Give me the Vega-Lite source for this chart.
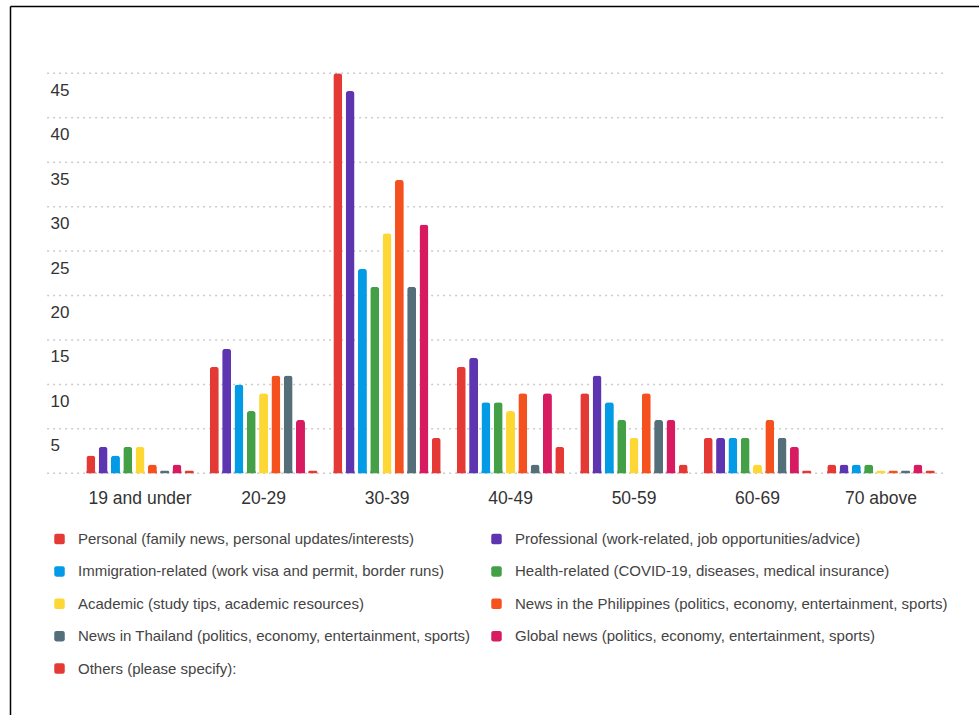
{
  "$schema": "https://vega.github.io/schema/vega-lite/v6.json",
  "width": 969,
  "height": 709,
  "autosize": "none",
  "padding": {"left": 10, "top": 6, "right": 0, "bottom": 0},
  "background": "white",
  "config": {"view": {"stroke": null}, "font": "Liberation Sans", "legend": {"gridAlign": "none"}},
  "datasets": {
    "grid": [
      {"v": 0, "a": "19 and under", "b": "70 above"},
      {"v": 5, "a": "19 and under", "b": "70 above"},
      {"v": 10, "a": "19 and under", "b": "70 above"},
      {"v": 15, "a": "19 and under", "b": "70 above"},
      {"v": 20, "a": "19 and under", "b": "70 above"},
      {"v": 25, "a": "19 and under", "b": "70 above"},
      {"v": 30, "a": "19 and under", "b": "70 above"},
      {"v": 35, "a": "19 and under", "b": "70 above"},
      {"v": 40, "a": "19 and under", "b": "70 above"},
      {"v": 45, "a": "19 and under", "b": "70 above"}
    ],
    "bars": [
      {"age": "19 and under", "cat": "Personal (family news, personal updates/interests)", "n": 2},
      {"age": "19 and under", "cat": "Professional (work-related, job opportunities/advice)", "n": 3},
      {"age": "19 and under", "cat": "Immigration-related (work visa and permit, border runs)", "n": 2},
      {"age": "19 and under", "cat": "Health-related (COVID-19, diseases, medical insurance)", "n": 3},
      {"age": "19 and under", "cat": "Academic (study tips, academic resources)", "n": 3},
      {"age": "19 and under", "cat": "News in the Philippines (politics, economy, entertainment, sports)", "n": 1},
      {"age": "19 and under", "cat": "News in Thailand (politics, economy, entertainment, sports)", "n": 0},
      {"age": "19 and under", "cat": "Global news (politics, economy, entertainment, sports)", "n": 1},
      {"age": "19 and under", "cat": "Others (please specify):", "n": 0},
      {"age": "20-29", "cat": "Personal (family news, personal updates/interests)", "n": 12},
      {"age": "20-29", "cat": "Professional (work-related, job opportunities/advice)", "n": 14},
      {"age": "20-29", "cat": "Immigration-related (work visa and permit, border runs)", "n": 10},
      {"age": "20-29", "cat": "Health-related (COVID-19, diseases, medical insurance)", "n": 7},
      {"age": "20-29", "cat": "Academic (study tips, academic resources)", "n": 9},
      {"age": "20-29", "cat": "News in the Philippines (politics, economy, entertainment, sports)", "n": 11},
      {"age": "20-29", "cat": "News in Thailand (politics, economy, entertainment, sports)", "n": 11},
      {"age": "20-29", "cat": "Global news (politics, economy, entertainment, sports)", "n": 6},
      {"age": "20-29", "cat": "Others (please specify):", "n": 0},
      {"age": "30-39", "cat": "Personal (family news, personal updates/interests)", "n": 45},
      {"age": "30-39", "cat": "Professional (work-related, job opportunities/advice)", "n": 43},
      {"age": "30-39", "cat": "Immigration-related (work visa and permit, border runs)", "n": 23},
      {"age": "30-39", "cat": "Health-related (COVID-19, diseases, medical insurance)", "n": 21},
      {"age": "30-39", "cat": "Academic (study tips, academic resources)", "n": 27},
      {"age": "30-39", "cat": "News in the Philippines (politics, economy, entertainment, sports)", "n": 33},
      {"age": "30-39", "cat": "News in Thailand (politics, economy, entertainment, sports)", "n": 21},
      {"age": "30-39", "cat": "Global news (politics, economy, entertainment, sports)", "n": 28},
      {"age": "30-39", "cat": "Others (please specify):", "n": 4},
      {"age": "40-49", "cat": "Personal (family news, personal updates/interests)", "n": 12},
      {"age": "40-49", "cat": "Professional (work-related, job opportunities/advice)", "n": 13},
      {"age": "40-49", "cat": "Immigration-related (work visa and permit, border runs)", "n": 8},
      {"age": "40-49", "cat": "Health-related (COVID-19, diseases, medical insurance)", "n": 8},
      {"age": "40-49", "cat": "Academic (study tips, academic resources)", "n": 7},
      {"age": "40-49", "cat": "News in the Philippines (politics, economy, entertainment, sports)", "n": 9},
      {"age": "40-49", "cat": "News in Thailand (politics, economy, entertainment, sports)", "n": 1},
      {"age": "40-49", "cat": "Global news (politics, economy, entertainment, sports)", "n": 9},
      {"age": "40-49", "cat": "Others (please specify):", "n": 3},
      {"age": "50-59", "cat": "Personal (family news, personal updates/interests)", "n": 9},
      {"age": "50-59", "cat": "Professional (work-related, job opportunities/advice)", "n": 11},
      {"age": "50-59", "cat": "Immigration-related (work visa and permit, border runs)", "n": 8},
      {"age": "50-59", "cat": "Health-related (COVID-19, diseases, medical insurance)", "n": 6},
      {"age": "50-59", "cat": "Academic (study tips, academic resources)", "n": 4},
      {"age": "50-59", "cat": "News in the Philippines (politics, economy, entertainment, sports)", "n": 9},
      {"age": "50-59", "cat": "News in Thailand (politics, economy, entertainment, sports)", "n": 6},
      {"age": "50-59", "cat": "Global news (politics, economy, entertainment, sports)", "n": 6},
      {"age": "50-59", "cat": "Others (please specify):", "n": 1},
      {"age": "60-69", "cat": "Personal (family news, personal updates/interests)", "n": 4},
      {"age": "60-69", "cat": "Professional (work-related, job opportunities/advice)", "n": 4},
      {"age": "60-69", "cat": "Immigration-related (work visa and permit, border runs)", "n": 4},
      {"age": "60-69", "cat": "Health-related (COVID-19, diseases, medical insurance)", "n": 4},
      {"age": "60-69", "cat": "Academic (study tips, academic resources)", "n": 1},
      {"age": "60-69", "cat": "News in the Philippines (politics, economy, entertainment, sports)", "n": 6},
      {"age": "60-69", "cat": "News in Thailand (politics, economy, entertainment, sports)", "n": 4},
      {"age": "60-69", "cat": "Global news (politics, economy, entertainment, sports)", "n": 3},
      {"age": "60-69", "cat": "Others (please specify):", "n": 0},
      {"age": "70 above", "cat": "Personal (family news, personal updates/interests)", "n": 1},
      {"age": "70 above", "cat": "Professional (work-related, job opportunities/advice)", "n": 1},
      {"age": "70 above", "cat": "Immigration-related (work visa and permit, border runs)", "n": 1},
      {"age": "70 above", "cat": "Health-related (COVID-19, diseases, medical insurance)", "n": 1},
      {"age": "70 above", "cat": "Academic (study tips, academic resources)", "n": 0},
      {"age": "70 above", "cat": "News in the Philippines (politics, economy, entertainment, sports)", "n": 0},
      {"age": "70 above", "cat": "News in Thailand (politics, economy, entertainment, sports)", "n": 0},
      {"age": "70 above", "cat": "Global news (politics, economy, entertainment, sports)", "n": 1},
      {"age": "70 above", "cat": "Others (please specify):", "n": 0}
    ]
  },
  "resolve": {"axis": {"x": "independent"}},
  "layer": [
    {
      "data": {"name": "grid"},
      "mark": {"type": "rule", "xOffset": -93, "x2Offset": 63, "strokeDash": [2, 4], "strokeWidth": 1.5, "color": "#cccccc"},
      "encoding": {
        "x": {
          "field": "a", "type": "nominal",
          "scale": {"domain": ["19 and under", "20-29", "30-39", "40-49", "50-59", "60-69", "70 above"], "paddingInner": 0.1, "paddingOuter": 0.4737, "align": 0.637},
          "axis": {"orient": "top", "domain": true, "domainColor": "#000000", "domainWidth": 1.5, "labels": false, "ticks": false, "title": null, "grid": false}
        },
        "x2": {"field": "b"},
        "y": {
          "field": "v", "type": "quantitative",
          "scale": {"domain": [-27.19, 52.57], "nice": false, "zero": false},
          "axis": {"values": [5, 10, 15, 20, 25, 30, 35, 40, 45], "orient": "left", "domain": true, "domainColor": "#000000", "domainWidth": 1.5, "ticks": false, "tickSize": 0, "grid": false, "labelAlign": "left", "labelBaseline": "middle", "labelPadding": -40, "labelOffset": 17, "labelFontSize": 17, "labelColor": "#333333", "labelFont": "Liberation Sans", "title": null}
        }
      }
    },
    {
      "data": {"name": "bars"},
      "encoding": {
        "x": {
          "field": "age", "type": "nominal",
          "scale": {"domain": ["19 and under", "20-29", "30-39", "40-49", "50-59", "60-69", "70 above"], "paddingInner": 0.1, "paddingOuter": 0.4737, "align": 0.637},
          "axis": {"orient": "bottom", "offset": -241.7, "domain": false, "ticks": false, "tickSize": 0, "labelPadding": 16, "labelFontSize": 17.5, "labelColor": "#333333", "labelFont": "Liberation Sans", "labelAngle": 0, "title": null, "grid": false}
        },
        "xOffset": {
          "field": "cat", "type": "nominal",
          "scale": {"domain": [
            "Personal (family news, personal updates/interests)",
            "Professional (work-related, job opportunities/advice)",
            "Immigration-related (work visa and permit, border runs)",
            "Health-related (COVID-19, diseases, medical insurance)",
            "Academic (study tips, academic resources)",
            "News in the Philippines (politics, economy, entertainment, sports)",
            "News in Thailand (politics, economy, entertainment, sports)",
            "Global news (politics, economy, entertainment, sports)",
            "Others (please specify):"
          ], "paddingInner": 0.27, "paddingOuter": 0.15}
        },
        "color": {
          "field": "cat", "type": "nominal",
          "scale": {
            "domain": [
              "Personal (family news, personal updates/interests)",
              "Professional (work-related, job opportunities/advice)",
              "Immigration-related (work visa and permit, border runs)",
              "Health-related (COVID-19, diseases, medical insurance)",
              "Academic (study tips, academic resources)",
              "News in the Philippines (politics, economy, entertainment, sports)",
              "News in Thailand (politics, economy, entertainment, sports)",
              "Global news (politics, economy, entertainment, sports)",
              "Others (please specify):"
            ],
            "range": ["#e53935", "#5e35b1", "#039be5", "#43a047", "#fdd835", "#f4511e", "#546e7a", "#d81b60", "#e53935"]
          },
          "legend": {
            "orient": "none", "legendX": 42, "legendY": 525.5,
            "columns": 2, "gridAlign": "none", "direction": "horizontal",
            "title": null,
            "labelFontSize": 15, "labelColor": "#444444", "labelFont": "Liberation Sans", "labelLimit": 700,
            "symbolType": "M-0.6,-1L0.6,-1Q1,-1,1,-0.6L1,0.6Q1,1,0.6,1L-0.6,1Q-1,1,-1,0.6L-1,-0.6Q-1,-1,-0.6,-1Z",
            "symbolSize": 110, "symbolStrokeWidth": 0, "symbolOpacity": 1,
            "labelOffset": 11, "columnPadding": 18, "rowPadding": 16.4
          }
        }
      },
      "layer": [
        {
          "mark": {"type": "bar", "yOffset": -2.6, "cornerRadiusTopLeft": 1.3, "cornerRadiusTopRight": 1.3},
          "encoding": {
            "y": {
              "datum": 0, "type": "quantitative",
              "scale": {"domain": [-27.19, 52.57], "nice": false, "zero": false},
              "axis": {"values": [5, 10, 15, 20, 25, 30, 35, 40, 45], "orient": "left", "domain": true, "domainColor": "#000000", "domainWidth": 1.5, "ticks": false, "tickSize": 0, "grid": false, "labelAlign": "left", "labelBaseline": "middle", "labelPadding": -40, "labelOffset": 17, "labelFontSize": 17, "labelColor": "#333333", "labelFont": "Liberation Sans", "title": null}
            }
          }
        },
        {
          "mark": {"type": "bar", "cornerRadiusTopLeft": 3, "cornerRadiusTopRight": 3},
          "encoding": {
            "y": {
              "field": "n", "type": "quantitative",
              "scale": {"domain": [-27.19, 52.57], "nice": false, "zero": false},
              "axis": {"values": [5, 10, 15, 20, 25, 30, 35, 40, 45], "orient": "left", "domain": true, "domainColor": "#000000", "domainWidth": 1.5, "ticks": false, "tickSize": 0, "grid": false, "labelAlign": "left", "labelBaseline": "middle", "labelPadding": -40, "labelOffset": 17, "labelFontSize": 17, "labelColor": "#333333", "labelFont": "Liberation Sans", "title": null}
            }
          }
        }
      ]
    }
  ]
}
